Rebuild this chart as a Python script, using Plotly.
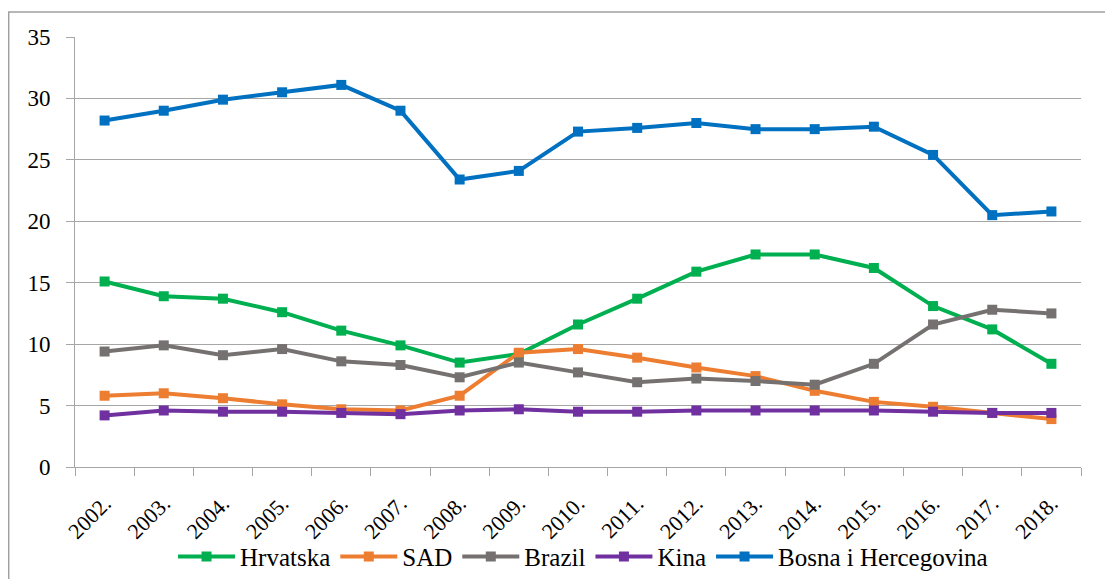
import plotly.graph_objects as go

years = ["2002.", "2003.", "2004.", "2005.", "2006.", "2007.", "2008.", "2009.", "2010.",
         "2011.", "2012.", "2013.", "2014.", "2015.", "2016.", "2017.", "2018."]

hrvatska = [15.1, 13.9, 13.7, 12.6, 11.1, 9.9, 8.5, 9.2, 11.6, 13.7, 15.9, 17.3, 17.3, 16.2, 13.1, 11.2, 8.4]
sad = [5.8, 6.0, 5.6, 5.1, 4.7, 4.6, 5.8, 9.3, 9.6, 8.9, 8.1, 7.4, 6.2, 5.3, 4.9, 4.4, 3.9]
brazil = [9.4, 9.9, 9.1, 9.6, 8.6, 8.3, 7.3, 8.5, 7.7, 6.9, 7.2, 7.0, 6.7, 8.4, 11.6, 12.8, 12.5]
kina = [4.2, 4.6, 4.5, 4.5, 4.4, 4.3, 4.6, 4.7, 4.5, 4.5, 4.6, 4.6, 4.6, 4.6, 4.5, 4.4, 4.4]
bih = [28.2, 29.0, 29.9, 30.5, 31.1, 29.0, 23.4, 24.1, 27.3, 27.6, 28.0, 27.5, 27.5, 27.7, 25.4, 20.5, 20.8]

series = [
    ("Hrvatska", hrvatska, "#00B050"),
    ("SAD", sad, "#ED7D31"),
    ("Brazil", brazil, "#767171"),
    ("Kina", kina, "#7030A0"),
    ("Bosna i Hercegovina", bih, "#0070C0"),
]

fig = go.Figure()
for name, vals, col in series:
    fig.add_trace(go.Scatter(
        x=years, y=vals, name=name, mode="lines+markers",
        line=dict(color=col, width=4),
        marker=dict(symbol="square", size=10, color=col),
    ))

font = "'Liberation Serif', 'Times New Roman', Tinos, 'DejaVu Serif', serif"
fig.update_layout(
    width=1105, height=571,
    margin=dict(l=67, r=32, t=29, b=112, autoexpand=False),
    paper_bgcolor="white", plot_bgcolor="white",
    font=dict(family=font, size=20, color="black"),
    showlegend=True,
    legend=dict(orientation="h", x=0.505, xanchor="center", y=-0.209, yanchor="middle",
                font=dict(family=font, size=25), itemwidth=57, tracegroupgap=0,
                bgcolor="rgba(0,0,0,0)"),
    xaxis=dict(type="category", tickangle=-45, showgrid=False, automargin=False,
               showline=True, linecolor="#A6A6A6", linewidth=1,
               ticks="outside", tickson="boundaries", ticklen=8, tickcolor="#A6A6A6",
               ticklabelstandoff=14,
               tickfont=dict(family=font, size=22), range=[-0.5, 16.5]),
    yaxis=dict(range=[0, 35], dtick=5, showgrid=True, gridcolor="#A6A6A6", gridwidth=1,
               showline=True, linecolor="#A6A6A6", linewidth=1, automargin=False,
               ticks="outside", ticklen=8, tickcolor="#A6A6A6",
               ticklabelstandoff=11,
               tickfont=dict(family=font, size=23), zeroline=False),
    shapes=[dict(type="rect", xref="paper", yref="paper",
                 x0=-0.0659, x1=1.05, y0=-0.3, y1=1.0581,
                 line=dict(color="#A0A0A0", width=1.5), layer="below")],
)

fig.write_html("out.html")
